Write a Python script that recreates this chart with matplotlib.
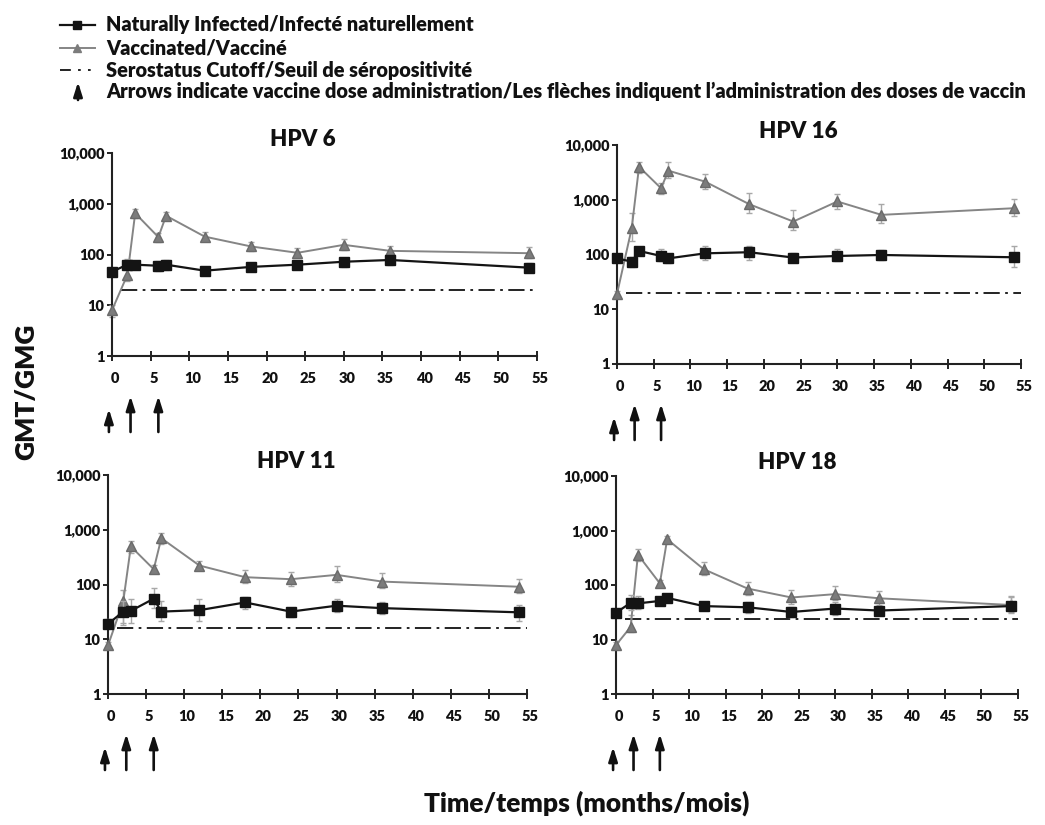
import matplotlib
matplotlib.use("Agg")
import matplotlib.pyplot as plt
import matplotlib.transforms as mtransforms
from matplotlib.lines import Line2D
import numpy as np

plt.rcParams['font.family'] = ['Lato', 'DejaVu Sans']
plt.rcParams['font.weight'] = 'bold'

# ---------------- data ----------------
months = [0, 2, 3, 6, 7, 12, 18, 24, 30, 36, 54]
x_ticks = list(range(0, 56, 5))
y_ticks = [1, 10, 100, 1000, 10000]
y_tick_labels = ["1", "10", "100", "1,000", "10,000"]
dose_arrow_months = [-0.4, 2.4, 6.0]

panel_titles = ["HPV 6", "HPV 16", "HPV 11", "HPV 18"]
cutoffs = [20, 20, 16, 24]
cutoff_start = 1.2

vacc_hpv6 = [8, 40, 650, 220, 580, 225, 144, 108, 155, 118, 106]
vacc_hpv6_hi = [10, 75, 800, 270, 680, 280, 180, 135, 205, 150, 140]
vacc_hpv6_lo = [6, 30, 520, 180, 480, 185, 115, 88, 120, 95, 85]
nat_hpv6 = [46, 63, 63, 60, 63, 48, 57, 63, 72, 78, 55]
nat_hpv6_hi = [52, 80, 75, 75, 78, 55, 68, 75, 85, 95, 68]
nat_hpv6_lo = [40, 50, 52, 48, 50, 40, 47, 52, 58, 63, 45]

vacc_hpv16 = [19, 300, 4000, 1620, 3400, 2140, 830, 400, 930, 530, 700]
vacc_hpv16_hi = [22, 580, 4950, 2000, 4800, 3000, 1350, 650, 1300, 820, 1050]
vacc_hpv16_lo = [16, 180, 3100, 1250, 2500, 1550, 570, 280, 680, 380, 500]
nat_hpv16 = [85, 74, 116, 94, 85, 105, 110, 88, 94, 98, 89]
nat_hpv16_hi = [100, 90, 135, 125, 100, 140, 145, 105, 125, 120, 145]
nat_hpv16_lo = [72, 60, 100, 75, 70, 80, 80, 72, 75, 80, 60]

vacc_hpv11 = [7.7, 49, 495, 190, 700, 222, 136, 125, 150, 113, 91]
vacc_hpv11_hi = [9, 80, 620, 230, 870, 270, 185, 170, 215, 165, 125]
vacc_hpv11_lo = [6.5, 20, 380, 165, 560, 185, 105, 95, 110, 88, 70]
nat_hpv11 = [19, 32, 33, 55, 32, 34, 47, 32, 41, 37, 31]
nat_hpv11_hi = [23, 50, 55, 85, 50, 55, 60, 38, 55, 47, 42]
nat_hpv11_lo = [16, 18, 20, 38, 22, 22, 35, 25, 32, 29, 22]

vacc_hpv18 = [7.9, 17, 360, 107, 690, 195, 86, 59, 68, 57, 43]
vacc_hpv18_hi = [9, 28, 460, 125, 800, 260, 115, 80, 95, 78, 62]
vacc_hpv18_lo = [6.8, 14, 280, 95, 580, 150, 65, 45, 52, 43, 32]
nat_hpv18 = [31, 47, 46, 51, 58, 41, 39, 32, 37, 34, 41]
nat_hpv18_hi = [35, 65, 62, 60, 68, 47, 48, 40, 48, 40, 60]
nat_hpv18_lo = [27, 35, 36, 43, 48, 35, 30, 26, 28, 28, 30]

legend_labels = [
    "Naturally Infected/Infecté naturellement",
    "Vaccinated/Vacciné",
    "Serostatus Cutoff/Seuil de séropositivité",
    "Arrows indicate vaccine dose administration/Les flèches indiquent l\u2019administration des doses de vaccin",
]

panels = [
    (vacc_hpv6, vacc_hpv6_lo, vacc_hpv6_hi, nat_hpv6, nat_hpv6_lo, nat_hpv6_hi),
    (vacc_hpv16, vacc_hpv16_lo, vacc_hpv16_hi, nat_hpv16, nat_hpv16_lo, nat_hpv16_hi),
    (vacc_hpv11, vacc_hpv11_lo, vacc_hpv11_hi, nat_hpv11, nat_hpv11_lo, nat_hpv11_hi),
    (vacc_hpv18, vacc_hpv18_lo, vacc_hpv18_hi, nat_hpv18, nat_hpv18_lo, nat_hpv18_hi),
]

# ---------------- layout ----------------
W, H = 1045, 825
fig = plt.figure(figsize=(W / 100, H / 100), dpi=100)

# axes boxes in pixels: left, top, right, bottom
boxes = [(112, 153, 537, 356), (617, 145, 1021, 364),
         (108, 475, 527, 694), (616, 476, 1018, 694)]

NAT_C = '#141414'
VAC_C = '#858585'
ERR_C = '#a8a8a8'
SPINE_C = '#222222'
TXT_C = '#111111'


def px_down(ax, px):
    return ax.get_xaxis_transform() + mtransforms.ScaledTranslation(0, -px / 100, fig.dpi_scale_trans)


ARROW = dict(arrowstyle='-|>,head_length=0.7,head_width=0.22', lw=1.9,
             color=TXT_C, shrinkA=0, shrinkB=0, mutation_scale=12)

for i, (box, data) in enumerate(zip(boxes, panels)):
    l, t, r, b = box
    ax = fig.add_axes([l / W, 1 - b / H, (r - l) / W, (b - t) / H])
    v, vlo, vhi, n, nlo, nhi = [np.array(a, dtype=float) for a in data]
    x = np.array(months, dtype=float)

    ax.set_yscale('log')
    ax.set_ylim(1, 10000)
    ax.set_xlim(0, 55)

    # cutoff
    ax.hlines(cutoffs[i], cutoff_start, 55, colors='#111111', lw=1.3,
              linestyles=[(0, (9, 3, 1.5, 3))], zorder=1, clip_on=False)

    # vaccinated
    ax.errorbar(x, v, yerr=[v - vlo, vhi - v], fmt='none', ecolor=ERR_C,
                elinewidth=1.0, capsize=2.5, capthick=1.0, zorder=2, clip_on=False)
    ax.plot(x, v, color=VAC_C, lw=1.4, marker='^', ms=7, mfc='#7c7c7c',
            mec='#6a6a6a', zorder=3, clip_on=False)

    # naturally infected
    ax.errorbar(x, n, yerr=[n - nlo, nhi - n], fmt='none', ecolor=ERR_C,
                elinewidth=1.0, capsize=2.5, capthick=1.0, zorder=4, clip_on=False)
    ax.plot(x, n, color=NAT_C, lw=1.6, marker='s', ms=6.5, mfc=NAT_C,
            mec=NAT_C, zorder=5, clip_on=False)

    # axes styling
    for s in ['top', 'right']:
        ax.spines[s].set_visible(False)
    for s in ['left', 'bottom']:
        ax.spines[s].set_linewidth(1.5)
        ax.spines[s].set_color(SPINE_C)
    ax.set_xticks(x_ticks)
    ax.set_xticklabels([str(k) for k in x_ticks])
    ax.set_yticks(y_ticks)
    ax.set_yticklabels(y_tick_labels)
    ax.minorticks_off()
    ax.tick_params(axis='x', direction='inout', length=7, width=1.4, color=SPINE_C,
                   pad=8, labelsize=10.5, labelcolor=TXT_C)
    ax.tick_params(axis='y', direction='out', length=3.5, width=1.4, color=SPINE_C,
                   pad=2, labelsize=10.5, labelcolor=TXT_C)
    off = mtransforms.ScaledTranslation(3 / 100, 0, fig.dpi_scale_trans)
    for lab in ax.get_xticklabels():
        lab.set_transform(lab.get_transform() + off)
        lab.set_fontweight('heavy')
    for lab in ax.get_yticklabels():
        lab.set_fontweight('heavy')

    # title
    ax.annotate(panel_titles[i], xy=(0.45, 1.0), xycoords='axes fraction',
                xytext=(0, 5), textcoords='offset points', ha='center', va='baseline',
                fontsize=16, fontweight='heavy', color=TXT_C, annotation_clip=False)

    # dose arrows
    for k, xm in enumerate(dose_arrow_months):
        tip = 53 if k == 0 else 40
        ax.annotate('', xy=(xm, 0), xycoords=px_down(ax, tip),
                    xytext=(xm, 0), textcoords=px_down(ax, 76),
                    arrowprops=ARROW, annotation_clip=False)

# ---------------- axis labels ----------------
fig.text(26 / W, 1 - 392 / H, "GMT/GMG", rotation=90, ha='center', va='center',
         fontsize=19, fontweight='heavy', color=TXT_C)
fig.text(587 / W, 1 - 803 / H, "Time/temps (months/mois)", ha='center', va='center',
         fontsize=19, fontweight='heavy', color=TXT_C)

# ---------------- legend ----------------
leg_y = [25, 48, 70, 91]
text_x = 106 / W


def fy(py):
    return 1 - py / H


fig.add_artist(Line2D([60 / W, 95 / W], [fy(leg_y[0])] * 2, color=NAT_C, lw=1.6))
fig.add_artist(Line2D([77 / W], [fy(leg_y[0])], color=NAT_C, marker='s', ms=5.5, lw=0))
fig.add_artist(Line2D([60 / W, 95 / W], [fy(leg_y[1])] * 2, color=VAC_C, lw=1.4))
fig.add_artist(Line2D([77 / W], [fy(leg_y[1])], color='#7c7c7c', marker='^', ms=6, lw=0))
fig.add_artist(Line2D([60 / W, 95 / W], [fy(leg_y[2])] * 2, color='#111111', lw=1.3,
                      linestyle=(0, (6, 4, 1.5, 4, 1.5, 4))))
ax_leg = fig.add_axes([0, 0, 1, 1], facecolor='none')
ax_leg.set_axis_off()
ax_leg.set_xlim(0, W)
ax_leg.set_ylim(H, 0)
ax_leg.annotate('', xy=(78, 82), xytext=(78, 100), arrowprops=ARROW)
for yy, lab in zip(leg_y, legend_labels):
    fig.text(text_x, fy(yy), lab, ha='left', va='center', fontsize=14.3,
             fontweight='heavy', color=TXT_C)

fig.savefig("out.png", dpi=100, facecolor='white')
